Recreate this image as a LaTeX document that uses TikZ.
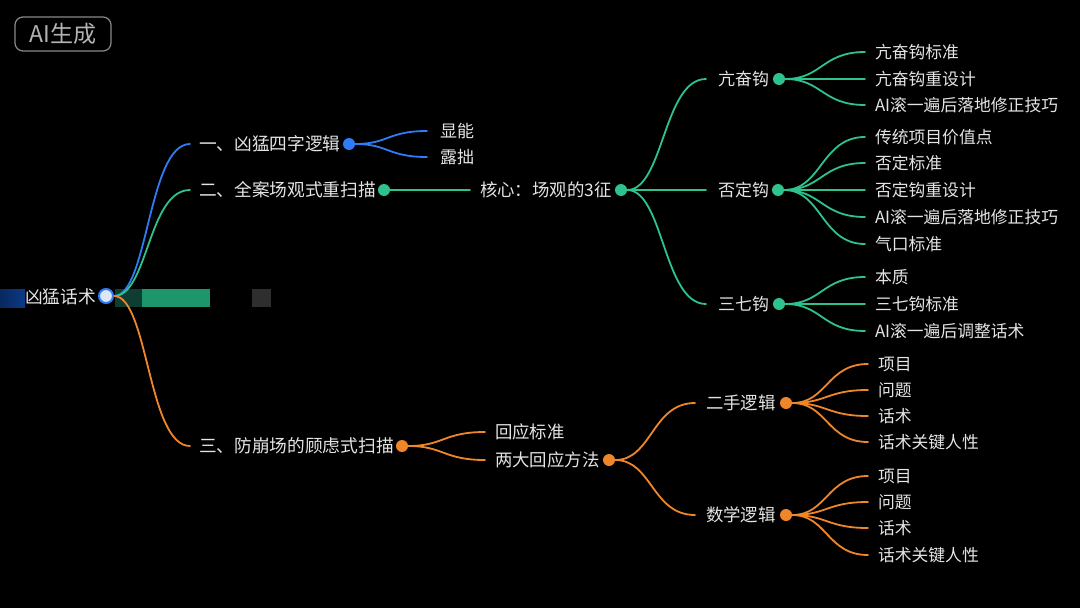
\documentclass[tikz,border=0pt]{standalone}
\usepackage{fontspec}
\newfontfamily\cjk{Noto Sans CJK SC}
\usetikzlibrary{calc}
\definecolor{bgc}{HTML}{000000}
\definecolor{mblue}{HTML}{2F7CF6}
\definecolor{mgreen}{HTML}{2EC28C}
\definecolor{morange}{HTML}{F0862A}
\definecolor{txtc}{HTML}{E4E4E4}
\definecolor{badgec}{HTML}{8A8A8A}
\definecolor{badget}{HTML}{B4B4B4}
\definecolor{rootfill}{HTML}{DCE6F5}
\definecolor{bardark}{HTML}{0D3D33}
\definecolor{bargreen}{HTML}{1E966C}
\definecolor{bargray}{HTML}{2E2E2E}
\definecolor{barblue}{HTML}{0B3A86}
\pgfdeclarelayer{bglayer}
\pgfdeclarelayer{edgelayer}
\pgfsetlayers{bglayer,edgelayer,main}
\tikzset{
  lbl/.style={text=txtc, font=\cjk\fontsize{16.8}{20}\selectfont, inner sep=0pt,
    text height=1.23em, text depth=0em, anchor=west, outer xsep=10pt},
  big/.style={font=\cjk\fontsize{17.7}{20}\selectfont},
  mid/.style={font=\cjk\fontsize{17.4}{20}\selectfont},
  sml/.style={font=\cjk\fontsize{17}{20}\selectfont},
  dotn/.style={circle, fill=#1, minimum size=12pt, inner sep=0pt},
  conn/.style={draw=#1, line width=1.8pt, line cap=round},
  curve/.style={to path={let \p1=(\tikztostart), \p2=(\tikztotarget) in
    .. controls ({(\x1+\x2)/2},\y1) and ({(\x1+\x2)/2},\y2) .. (\tikztotarget)}},
  badge/.style={draw=badgec, line width=1.2pt, rounded corners=8pt, text=badget,
    font=\cjk\fontsize{23}{26}\selectfont, minimum width=96pt, minimum height=34pt, inner sep=0pt},
}
\begin{document}
\begin{tikzpicture}[x=1pt,y=-1pt]
\begin{pgfonlayer}{bglayer}
\fill[bgc] (0,0) rectangle (1080,608);
\fill[left color=barblue!70!black, right color=barblue] (0,289) rectangle (25,307);
\fill[bardark] (115,289) rectangle (142,307);
\fill[bargreen] (142,289) rectangle (210,307);
\fill[bargray] (252,289) rectangle (271,307);
\end{pgfonlayer}

\node[badge] (badge) at (63,34) {AI生成};

% root
\node[lbl, big, anchor=east, outer xsep=0pt] (root) at (96,297) {凶猛话术};
\node[circle, fill=rootfill, draw=mblue, line width=2pt, minimum size=14pt, inner sep=0pt] (R) at (106,296) {};

% branch 1
\node[lbl, big, outer xsep=9pt] (t1) at (190,144) {一、凶猛四字逻辑};
\node[dotn=mblue] (d1) at (349,144) {};
\node[lbl, sml, outer xsep=13pt] (l1a) at (427,131) {显能};
\node[lbl, sml, outer xsep=13pt] (l1b) at (427,157) {露拙};

% branch 2
\node[lbl, big, outer xsep=9pt] (t2) at (190,190) {二、全案场观式重扫描};
\node[dotn=mgreen] (d2) at (384,190) {};
\node[lbl, mid] (core) at (470,190) {核心：场观的3征};
\node[dotn=mgreen] (dcore) at (621,190) {};

\node[lbl, sml, outer xsep=12pt] (g1) at (706,79) {亢奋钩};
\node[dotn=mgreen] (dg1) at (779,79) {};
\node[lbl] (g1a) at (865,52) {亢奋钩标准};
\node[lbl] (g1b) at (865,79) {亢奋钩重设计};
\node[lbl] (g1c) at (865,105) {AI滚一遍后落地修正技巧};

\node[lbl, sml, outer xsep=12pt] (g2) at (706,190) {否定钩};
\node[dotn=mgreen] (dg2) at (778,190) {};
\node[lbl] (g2a) at (865,137) {传统项目价值点};
\node[lbl] (g2b) at (865,163) {否定标准};
\node[lbl] (g2c) at (865,190) {否定钩重设计};
\node[lbl] (g2d) at (865,217) {AI滚一遍后落地修正技巧};
\node[lbl] (g2e) at (865,244) {气口标准};

\node[lbl, sml, outer xsep=12pt] (g3) at (706,304) {三七钩};
\node[dotn=mgreen] (dg3) at (779,304) {};
\node[lbl] (g3a) at (865,277) {本质};
\node[lbl] (g3b) at (865,304) {三七钩标准};
\node[lbl] (g3c) at (865,331) {AI滚一遍后调整话术};

% branch 3
\node[lbl, big, outer xsep=9pt] (t3) at (190,446) {三、防崩场的顾虑式扫描};
\node[dotn=morange] (d3) at (402,446) {};
\node[lbl, mid] (o1) at (485,432) {回应标准};
\node[lbl, mid] (o2) at (485,460) {两大回应方法};
\node[dotn=morange] (do2) at (609,460) {};

\node[lbl, mid, outer xsep=11pt] (p1) at (695,403) {二手逻辑};
\node[dotn=morange] (dp1) at (786,403) {};
\node[lbl] (p1a) at (868,364) {项目};
\node[lbl] (p1b) at (868,390) {问题};
\node[lbl] (p1c) at (868,416) {话术};
\node[lbl] (p1d) at (868,442) {话术关键人性};

\node[lbl, mid, outer xsep=11pt] (p2) at (695,515) {数学逻辑};
\node[dotn=morange] (dp2) at (786,515) {};
\node[lbl] (p2a) at (868,476) {项目};
\node[lbl] (p2b) at (868,502) {问题};
\node[lbl] (p2c) at (868,528) {话术};
\node[lbl] (p2d) at (868,555) {话术关键人性};

\begin{pgfonlayer}{edgelayer}
\draw[conn=mblue] (R) to[curve] (t1.west);
\draw[conn=mgreen] (R) to[curve] (t2.west);
\draw[conn=morange] (R) to[curve] (t3.west);

\draw[conn=mblue] (d1) to[curve] (l1a.west);
\draw[conn=mblue] (d1) to[curve] (l1b.west);

\draw[conn=mgreen] (d2) to[curve] (core.west);
\draw[conn=mgreen] (dcore) to[curve] (g1.west);
\draw[conn=mgreen] (dcore) to[curve] (g2.west);
\draw[conn=mgreen] (dcore) to[curve] (g3.west);
\foreach \l in {g1a,g1b,g1c} \draw[conn=mgreen] (dg1) to[curve] (\l.west);
\foreach \l in {g2a,g2b,g2c,g2d,g2e} \draw[conn=mgreen] (dg2) to[curve] (\l.west);
\foreach \l in {g3a,g3b,g3c} \draw[conn=mgreen] (dg3) to[curve] (\l.west);

\draw[conn=morange] (d3) to[curve] (o1.west);
\draw[conn=morange] (d3) to[curve] (o2.west);
\draw[conn=morange] (do2) to[curve] (p1.west);
\draw[conn=morange] (do2) to[curve] (p2.west);
\foreach \l in {p1a,p1b,p1c,p1d} \draw[conn=morange] (dp1) to[curve] (\l.west);
\foreach \l in {p2a,p2b,p2c,p2d} \draw[conn=morange] (dp2) to[curve] (\l.west);
\end{pgfonlayer}
\end{tikzpicture}
\end{document}
